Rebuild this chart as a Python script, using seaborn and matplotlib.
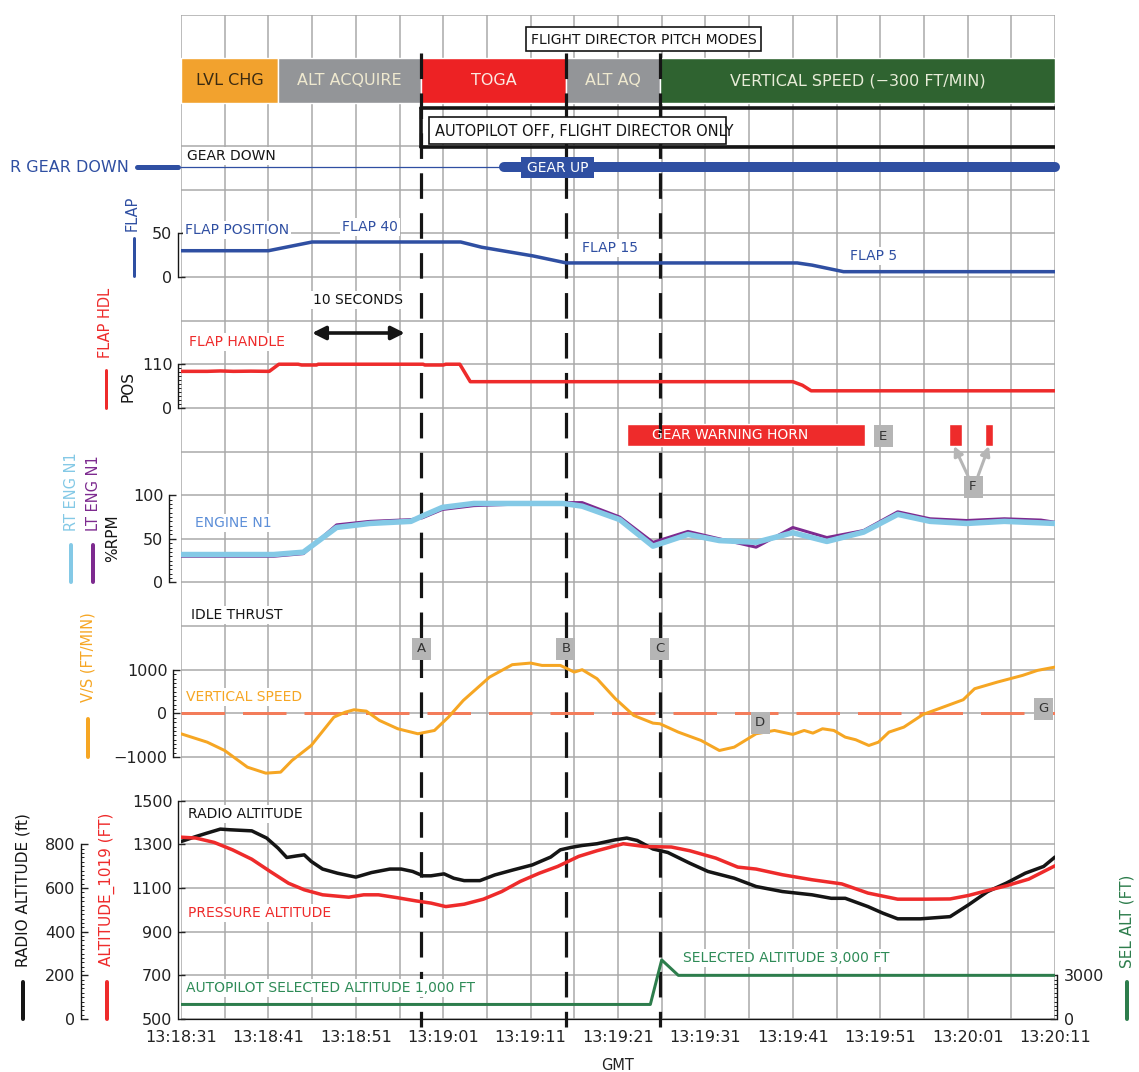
import numpy as np
import matplotlib.pyplot as plt
import seaborn as sns
from matplotlib.patches import Rectangle

# ─────────────────────────────────────────────
# DATA  (time = seconds after 13:18:31 GMT)
# ─────────────────────────────────────────────
TIME_TICKS = [0, 10, 20, 30, 40, 50, 60, 70, 80, 90, 100]
TIME_LABELS = ["13:18:31", "13:18:41", "13:18:51", "13:19:01", "13:19:11", "13:19:21",
               "13:19:31", "13:19:41", "13:19:51", "13:20:01", "13:20:11"]

MODE_NAMES = ["LVL CHG", "ALT ACQUIRE", "TOGA", "ALT AQ", "VERTICAL SPEED (−300 FT/MIN)"]
MODE_START = [0.0, 11.1, 27.5, 44.05, 54.8]
MODE_END = [11.1, 27.5, 44.05, 54.8, 100.0]

EVENT_LABELS = ["A", "B", "C"]
EVENT_TIMES = [27.5, 44.05, 54.8]

GEAR_UP_TIME = 37.0
HORN_START = [51.0, 87.9, 92.0]
HORN_END = [78.3, 89.4, 92.9]

FLAP_T = [0, 10.0, 12.5, 15.0, 32.0, 34.4, 40.3, 44.1, 70.5, 72.2, 75.8, 100]
FLAP_V = [30, 30, 35, 40, 40, 34, 24, 16, 16, 13.5, 6, 6]

HDL_T = [0, 3, 4.5, 6, 8, 10.1, 11.2, 13.4, 13.8, 15.5, 15.7, 27.7, 27.9, 30.0, 30.3,
         31.9, 33.1, 70.0, 71.1, 72.1, 100]
HDL_V = [92, 92, 93, 92, 92.5, 92, 110, 110, 108, 108, 110, 110, 108, 108, 110,
         110, 66, 66, 57, 43, 43]

RT_N1_T = [0, 10.6, 14.0, 17.8, 21.6, 26.3, 27.6, 29.9, 33.5, 43.7, 45.9, 50.2, 54.0,
           58.0, 61.6, 65.8, 70.0, 73.9, 78.1, 82.0, 85.7, 89.9, 94.2, 100]
RT_N1_V = [32, 32, 34.7, 63, 67.6, 70, 76, 86, 90.5, 90.5, 87.4, 72, 41.6,
           55, 48, 46, 57, 47, 57.7, 78, 70, 67.6, 70, 67.6]

LT_N1_T = [0, 10.6, 14.0, 17.8, 21.6, 26.3, 27.6, 29.9, 33.5, 43.7, 45.9, 50.2, 54.0,
           58.0, 61.6, 65.8, 70.0, 73.9, 78.1, 82.0, 85.7, 89.9, 94.2, 98.4, 100]
LT_N1_V = [30, 30, 33, 66, 70, 72, 74, 83.6, 88, 91.5, 91.5, 75, 46,
           58.5, 50, 40.4, 63, 51.5, 59.5, 81, 73, 71, 73, 71.5, 69]

VS_T = [0, 3, 5, 7.6, 9.7, 11.4, 12.7, 14.9, 17.5, 18.8, 19.8, 21.2, 22.7, 24.8, 27.1,
        29, 30.6, 32.3, 35.3, 37.9, 40, 41.3, 43.4, 45, 45.9, 47.6, 49.7, 51.8, 54, 54.8,
        56.9, 59.5, 61.6, 63.3, 65.8, 67.9, 70, 71.3, 72.3, 73.4, 74.7, 76, 77.2, 78.7,
        79.8, 81, 82.7, 84.9, 87, 89.5, 90.8, 93.4, 96.3, 98, 100]
VS_V = [-466, -658, -850, -1231, -1368, -1345, -1078, -734, -84, 30, 84, 53, -160, -351, -466,
        -390, -84, 298, 832, 1117, 1154, 1100, 1100, 947, 1002, 796, 337, -46, -222, -237,
        -428, -619, -849, -772, -466, -390, -481, -390, -451, -351, -390, -543, -603, -734,
        -658, -428, -314, -23, 130, 314, 566, 718, 872, 986, 1062]

RA_T = [0, 1.7, 3, 4.5, 5.6, 8.1, 9.8, 11.1, 12.1, 13.2, 14.1, 14.9, 16.2, 17.9, 20,
        21.8, 23.9, 25.2, 26.5, 27.7, 28.6, 30.1, 31.2, 32.4, 34.2, 35.9, 38, 40.2, 42.3,
        43.4, 44.6, 45.9, 47.6, 49.7, 51, 52.2, 54, 55.7, 58.2, 60.3, 63.3, 65.8, 68.8,
        72.2, 74.4, 76, 78.6, 80.3, 82, 84.6, 88, 90.1, 92.3, 94.4, 96.6, 98.7, 100]
RA_V = [813, 836, 852, 870, 867, 862, 829, 783, 740, 747, 752, 722, 687, 668, 650,
        671, 687, 687, 676, 656, 656, 665, 645, 634, 634, 660, 683, 706, 742,
        775, 786, 795, 803, 821, 829, 818, 779, 763, 714, 676, 645, 607, 584,
        569, 553, 553, 515, 485, 459, 459, 469, 523, 584, 622, 668, 699, 742]

PA_T = [0, 1.7, 3.8, 5.9, 8.1, 10.2, 12.3, 14.1, 16.2, 19.2, 20.9, 22.6, 24.7, 26.9, 28.6,
        30.3, 32.4, 34.6, 36.7, 38.8, 41, 43.1, 45.5, 47.6, 50.6, 53.1, 56.1, 58.2, 61.2,
        63.7, 65.8, 68.8, 72.2, 75.6, 78.6, 82, 85, 88, 90.1, 92.3, 94.4, 97, 100]
PA_V = [1333, 1329, 1309, 1275, 1232, 1176, 1122, 1092, 1069, 1058, 1069, 1069, 1056, 1041, 1031,
        1015, 1026, 1049, 1084, 1130, 1168, 1199, 1245, 1271, 1303, 1290, 1288, 1271, 1237,
        1196, 1187, 1161, 1138, 1119, 1077, 1049, 1049, 1050, 1066, 1089, 1110, 1141, 1202]

SEL_T = [0, 53.7, 55.0, 56.9, 100]
SEL_V = [1000, 1000, 4060, 3000, 3000]

# ─────────────────────────────────────────────
# LAYOUT / STYLE
# ─────────────────────────────────────────────
W, H = 1139, 1072
X0, X1 = 181, 1055          # pixel span of the time axis
Y0, Y1 = 15, 1019           # pixel span of the chart grid
N_ROWS = 23
ROW = (Y1 - Y0) / N_ROWS
SEC = (X1 - X0) / 100.0
PT = 0.72                   # points per pixel at dpi 100

GRID = "#a9a9a9"
BLUE = "#2f4fa2"
RED = "#ee2b2b"
BLACK = "#151515"
VS_ORANGE = "#f6a623"
ZERO_SALMON = "#f37c5a"
RT_BLUE = "#84c9e6"
LT_PURPLE = "#7d2a8f"
SEL_GREEN = "#2d7d4c"
GREEN_TEXT = "#2e8b57"
BOX_GRAY = "#b5b5b5"
MODE_COLORS = ["#f2a22e", "#939598", "#ed2224", "#939598", "#2f6330"]
MODE_TEXT = ["#3b2b12", "#efe9cf", "#fbe9e2", "#efe9cf", "#e8ecd8"]


def row(py):
    return (py - Y0) / ROW


def px(t):
    return X0 + t * SEC


sns.set_theme(style="white", rc={"axes.grid": False})
plt.rcParams["font.family"] = ["DejaVu Sans"]

fig = plt.figure(figsize=(W / 100, H / 100), dpi=100)
rect = [X0 / W, 1 - Y1 / H, (X1 - X0) / W, (Y1 - Y0) / H]

# base axes: time on x, grid rows on y (row 0 at the top)
base = fig.add_axes(rect)
base.set_xlim(0, 100)
base.set_ylim(N_ROWS, 0)
for s in base.spines.values():
    s.set_visible(False)
base.spines["bottom"].set_visible(True)
base.spines["bottom"].set_color(BLACK)
base.spines["bottom"].set_linewidth(0.9)
base.vlines(np.arange(0, 101, 5), 0, N_ROWS, color=GRID, lw=1.1, zorder=0)
base.hlines(np.arange(0, N_ROWS + 1), 0, 100, color=GRID, lw=1.1, zorder=0)
base.set_xticks(TIME_TICKS, TIME_LABELS)
base.set_xticks(np.arange(0, 101, 1), minor=True)
base.set_yticks([])
base.tick_params(axis="x", which="major", direction="in", length=5, width=1,
                 labelsize=11.5, pad=8, colors="#222222")
base.tick_params(axis="x", which="minor", direction="in", length=2.5, width=0.8,
                 colors="#222222")

# flight director pitch modes
widths = [e - s for s, e in zip(MODE_START, MODE_END)]
base.broken_barh(list(zip(MODE_START, widths)), (row(58), row(103) - row(58)),
                 facecolors=MODE_COLORS, zorder=2)
for s, e, name, tc in zip(MODE_START, MODE_END, MODE_NAMES, MODE_TEXT):
    base.text((s + e) / 2, row(80.5), name, ha="center", va="center",
              color=tc, fontsize=11.5, zorder=3)

# autopilot off bracket
base.plot([EVENT_TIMES[0], 100], [row(108), row(108)], color=BLACK, lw=3.6 * PT, zorder=3)
base.plot([EVENT_TIMES[0], 100], [row(147), row(147)], color=BLACK, lw=3.6 * PT, zorder=3)
base.plot([EVENT_TIMES[0]] * 2, [row(108), row(147)], color=BLACK, lw=3.6 * PT, zorder=3)

# gear
gear_row = row(167)
base.plot([0, GEAR_UP_TIME], [gear_row, gear_row], color=BLUE, lw=0.9, zorder=3)
base.plot([GEAR_UP_TIME, 100], [gear_row, gear_row], color=BLUE, lw=10 * PT,
          solid_capstyle="round", clip_on=False, zorder=3)

# gear warning horn
horn_w = [e - s for s, e in zip(HORN_START, HORN_END)]
base.broken_barh(list(zip(HORN_START, horn_w)), (row(423.5), row(446) - row(423.5)),
                 facecolors=RED, zorder=3)

# 10 seconds arrow
base.annotate("", xy=(15.0, row(333)), xytext=(25.6, row(333)),
              arrowprops=dict(arrowstyle="<|-|>", color=BLACK, lw=2.6,
                              mutation_scale=20, shrinkA=0, shrinkB=0), zorder=3)

# event lines A, B, C
for t in EVENT_TIMES:
    base.plot([t, t], [row(53), row(1027)], color=BLACK, lw=2.3, dashes=(8, 4.5),
              clip_on=False, zorder=4)


# ─────────────────────────────────────────────
# PANELS sharing the time axis
# ─────────────────────────────────────────────
def panel(zero_row, per_row, zero_val=0.0):
    ax = fig.add_axes(rect, sharex=base)
    ax.set_ylim(zero_val - (N_ROWS - zero_row) * per_row, zero_val + zero_row * per_row)
    ax.patch.set_visible(False)
    for s in ax.spines.values():
        s.set_visible(False)
    ax.tick_params(axis="x", which="both", bottom=False, labelbottom=False)
    ax.tick_params(axis="y", which="both", left=False, labelleft=False)
    return ax


def scale(ax, ticks, minor_step, offset_px, side="left", pad=4):
    sp = ax.spines[side]
    sp.set_visible(True)
    sp.set_bounds(ticks[0], ticks[-1])
    sp.set_position(("outward", offset_px * PT))
    sp.set_color(BLACK)
    sp.set_linewidth(1)
    labels = [str(v).replace("-", "−") for v in ticks]
    ax.set_yticks(ticks, labels)
    if minor_step:
        ax.set_yticks(np.arange(ticks[0], ticks[-1] + 1, minor_step), minor=True)
    if side == "right":
        ax.yaxis.tick_right()
        ax.tick_params(axis="y", which="both", right=True, labelright=True,
                       left=False, labelleft=False)
    else:
        ax.tick_params(axis="y", which="both", left=True, labelleft=True)
    ax.tick_params(axis="y", which="major", direction="in", length=5, width=1,
                   labelsize=11.5, pad=pad, colors="#222222")
    ax.tick_params(axis="y", which="minor", direction="in", length=2.5, width=0.7,
                   colors="#222222")


def line(ax, t, v, color, width_px, **kw):
    sns.lineplot(x=t, y=v, ax=ax, color=color, linewidth=width_px * PT,
                 estimator=None, sort=False, legend=False, **kw)
    ax.set(xlabel="", ylabel="")


ax_flap = panel(6, 50)
scale(ax_flap, [0, 50], None, 3)
line(ax_flap, FLAP_T, FLAP_V, BLUE, 3.5)

ax_hdl = panel(9, 110)
scale(ax_hdl, [0, 110], 10, 3)
line(ax_hdl, HDL_T, HDL_V, RED, 3.5)

ax_n1 = panel(13, 50)
scale(ax_n1, [0, 50, 100], 5, 12)
line(ax_n1, LT_N1_T, LT_N1_V, LT_PURPLE, 3)
line(ax_n1, RT_N1_T, RT_N1_V, RT_BLUE, 5.5)

ax_vs = panel(16, 1000)
scale(ax_vs, [-1000, 0, 1000], 100, 8)
ax_vs.axhline(0, color=ZERO_SALMON, lw=3 * PT, dashes=(14.5, 6))
line(ax_vs, VS_T, VS_V, VS_ORANGE, 3)

ax_ra = panel(23, 200)
scale(ax_ra, [0, 200, 400, 600, 800], 20, 100)
ax_pa = panel(23, 200, 500)
scale(ax_pa, [500, 700, 900, 1100, 1300, 1500], None, 3)
ax_sel = panel(23, 3000)
scale(ax_sel, [0, 3000], 300, 2, side="right", pad=5)
line(ax_sel, SEL_T, SEL_V, SEL_GREEN, 3)
line(ax_pa, PA_T, PA_V, RED, 3.5)
line(ax_ra, RA_T, RA_V, BLACK, 3.5)

base.set_xlim(0, 100)

# ─────────────────────────────────────────────
# OVERLAY: labels in pixel coordinates
# ─────────────────────────────────────────────
ov = fig.add_axes([0, 0, 1, 1])
ov.set_xlim(0, W)
ov.set_ylim(H, 0)
ov.axis("off")

WHITE_BOX = dict(facecolor="white", edgecolor="none", pad=1.5)


def label(x, y, s, color=BLACK, size=10, ha="left", box=True, **kw):
    ov.text(x, y, s, color=color, fontsize=size, ha=ha, va="center",
            bbox=WHITE_BOX if box else None, **kw)


def vlabel(x, y, s, color, size=10.5):
    ov.text(x, y, s, color=color, fontsize=size, rotation=90, ha="center", va="center")


def key(x, ya, yb, color, width_px=4):
    ov.plot([x, x], [ya, yb], color=color, lw=width_px * PT, solid_capstyle="round")


def letter_box(cx, cy, s):
    ov.add_patch(Rectangle((cx - 9.5, cy - 11), 19, 22, facecolor=BOX_GRAY, edgecolor="none"))
    ov.text(cx, cy, s, color="#333333", fontsize=9.5, ha="center", va="center")


# header boxes
ov.add_patch(Rectangle((526, 27), 235, 24, facecolor="white", edgecolor=BLACK, lw=1.2))
ov.text(643.5, 39.5, "FLIGHT DIRECTOR PITCH MODES", fontsize=10, ha="center", va="center",
        color=BLACK)
ov.add_patch(Rectangle((429, 117), 297, 27, facecolor="white", edgecolor=BLACK, lw=1.2))
ov.text(435, 131, "AUTOPILOT OFF, FLIGHT DIRECTOR ONLY", fontsize=10.5, ha="left",
        va="center", color=BLACK)

# gear
label(187, 156, "GEAR DOWN", size=10)
ov.text(10, 167, "R GEAR DOWN", color=BLUE, fontsize=11.5, ha="left", va="center")
ov.plot([137, 178], [167, 167], color=BLUE, lw=5 * PT)
ov.add_patch(Rectangle((521, 157), 73, 21, facecolor=BLUE, edgecolor="none"))
ov.text(557.5, 168, "GEAR UP", color="white", fontsize=10, ha="center", va="center")

# flap
label(185, 230, "FLAP POSITION", BLUE)
label(342, 227, "FLAP 40", BLUE)
label(582, 248, "FLAP 15", BLUE)
label(850, 256, "FLAP 5", BLUE)
vlabel(132, 213, "FLAP", BLUE)
key(134, 238, 276, BLUE, 3)

label(358, 300, "10 SECONDS", ha="center")

# flap handle
label(189, 342, "FLAP HANDLE", RED)
vlabel(105, 323, "FLAP HDL", RED)
key(106, 370, 408, RED, 3)
vlabel(128, 387, "POS", BLACK, 11)

# horn
ov.text(652, 435, "GEAR WARNING HORN", color="white", fontsize=10, ha="left", va="center")
letter_box(883, 436, "E")
letter_box(973, 487, "F")
for xa, xb in [(968, 954), (978, 989)]:
    ov.annotate("", xy=(xb, 446), xytext=(xa, 476),
                arrowprops=dict(arrowstyle="-|>", color=BOX_GRAY, lw=2.2,
                                mutation_scale=14, shrinkA=0, shrinkB=0))

# engines
label(195, 523, "ENGINE N1", "#5d8fd8")
vlabel(71, 492, "RT ENG N1", RT_BLUE)
key(71, 545, 582, RT_BLUE, 4)
vlabel(93, 493, "LT ENG N1", LT_PURPLE)
key(93, 545, 582, LT_PURPLE, 4)
vlabel(113, 538, "%RPM", BLACK, 11)
label(191, 615, "IDLE THRUST")

# event / note letters
for t, s in zip(EVENT_TIMES, EVENT_LABELS):
    letter_box(px(t), 649, s)
letter_box(760, 722.5, "D")
letter_box(1043, 708.5, "G")

# vertical speed
label(186, 697, "VERTICAL SPEED", VS_ORANGE)
vlabel(88, 657, "V/S (FT/MIN)", VS_ORANGE)
key(88, 719, 757, VS_ORANGE, 4)

# altitudes
label(188, 814, "RADIO ALTITUDE")
label(188, 913, "PRESSURE ALTITUDE", RED)
label(186, 988, "AUTOPILOT SELECTED ALTITUDE 1,000 FT", GREEN_TEXT)
label(683, 958, "SELECTED ALTITUDE 3,000 FT", GREEN_TEXT)
vlabel(23, 890, "RADIO ALTITUDE (ft)", BLACK, 11)
key(23, 982, 1019, BLACK, 4)
vlabel(107, 889, "ALTITUDE_1019 (FT)", RED, 11)
key(107, 982, 1019, RED, 4)
vlabel(1127, 921, "SEL ALT (FT)", SEL_GREEN, 11)
key(1127, 982, 1019, SEL_GREEN, 4)

ov.text(618, 1065, "GMT", fontsize=10.5, ha="center", va="center", color="#222222")

fig.savefig("out.png", dpi=100)
